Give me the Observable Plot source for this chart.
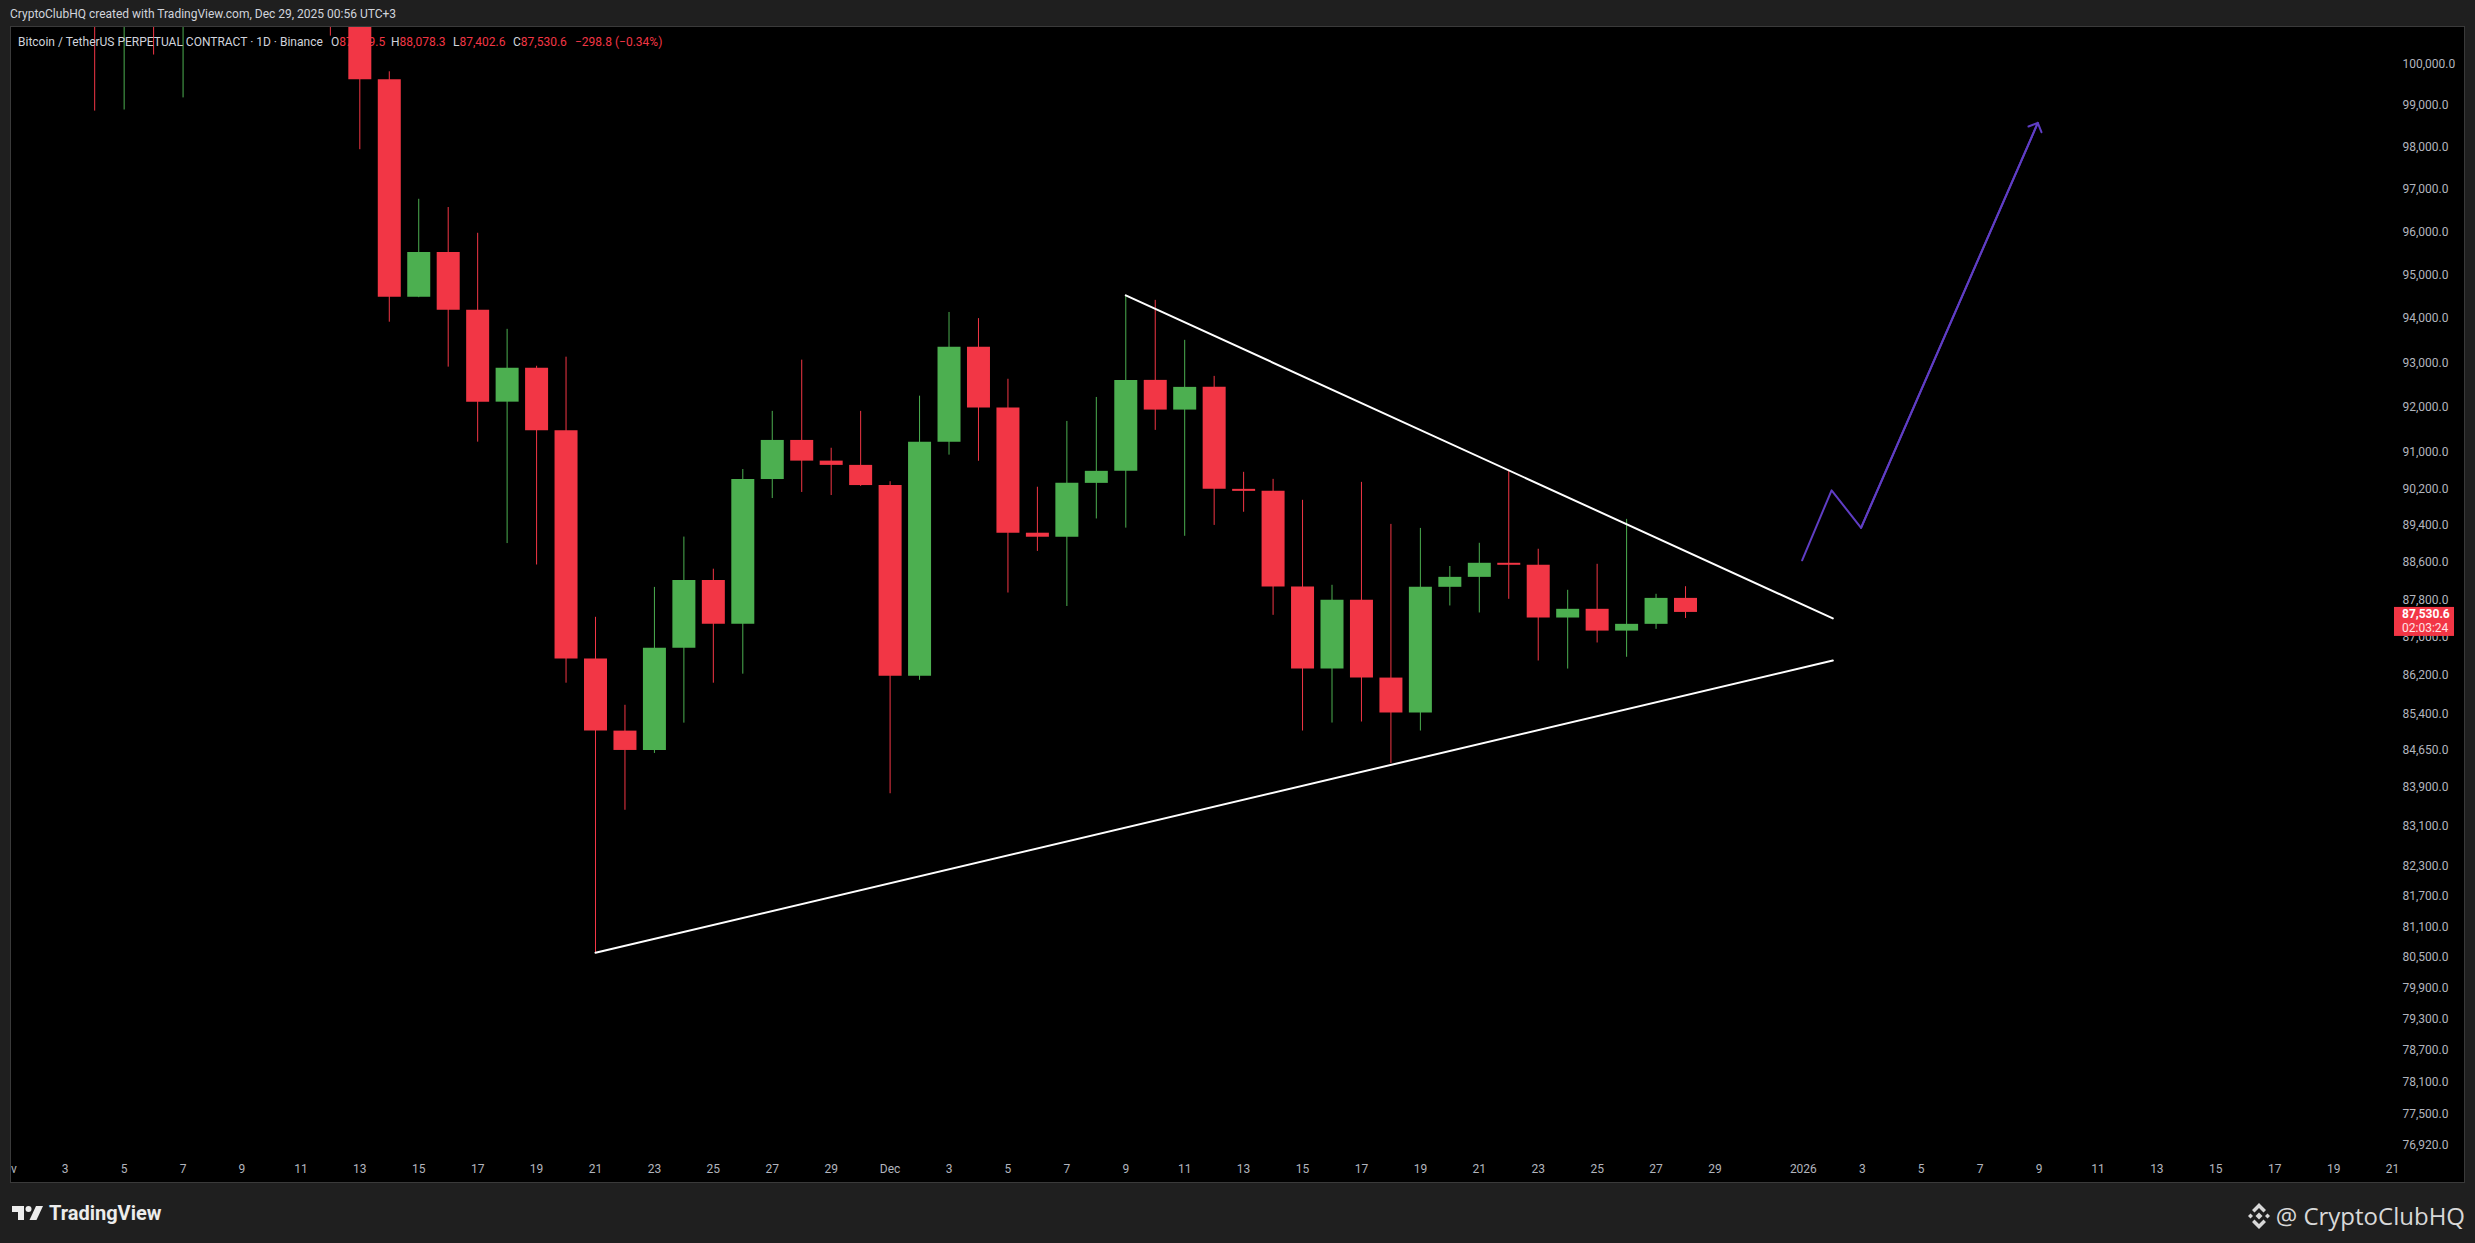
<!DOCTYPE html>
<html>
<head>
<meta charset="utf-8">
<script src="https://cdn.jsdelivr.net/npm/d3@7"></script>
<script src="https://cdn.jsdelivr.net/npm/@observablehq/plot@0.6"></script>
<style>
  html, body { margin:0; padding:0; width:2475px; height:1243px; background:#1f1f1f; overflow:hidden; }
  body { position:relative; font-family: Roboto, "Liberation Sans", sans-serif; }
  #credit { position:absolute; left:10px; top:4px; font-size:12px; line-height:20px; color:#d1d4dc; white-space:pre; }
  #panel { position:absolute; left:10px; top:26px; width:2453px; height:1155px; border:1px solid #3a3a3a; background:#000; overflow:hidden; }
  #legend { position:absolute; left:0; top:7px; width:900px; height:16px; font-size:12px; line-height:16px; white-space:pre; pointer-events:none; }
  #legend .item { position:absolute; top:0; }
  .g { color:#d1d4dc; } .r { color:#f23645; }
  #tvlogo { position:absolute; left:12px; top:1206px; }
  #tvtext { position:absolute; left:49px; top:1203px; font-weight:bold; font-size:20px; line-height:20px; color:#ececec; font-family: Roboto, sans-serif; }
  #handleIcon { position:absolute; left:2245px; top:1203px; }
  #handle { position:absolute; right:10px; top:1204px; font-size:24px; line-height:24px; color:#d8d8d8; font-family:"Open Sans", sans-serif; white-space:pre; }
</style>
</head>
<body>
<div id="credit">CryptoClubHQ created with TradingView.com, Dec 29, 2025 00:56 UTC+3</div>
<div id="panel">
  <div id="chart"></div>
  <div id="legend"></div>
</div>
<svg id="tvlogo" width="32" height="15" viewBox="0 0 32 15">
  <path d="M0 0 H12 V14 H6 V6 H0 Z" fill="#ececec"/>
  <circle cx="16.5" cy="3" r="3" fill="#ececec"/>
  <path d="M24 0 H31 L24.5 14 H17.5 Z" fill="#ececec"/>
</svg>
<div id="tvtext">TradingView</div>
<svg id="handleIcon" width="28" height="26" viewBox="0 0 28 26">
  <g fill="#d8d8d8">
    <path d="M14 0 L21 7 L18.5 9.5 L14 5 L9.5 9.5 L7 7 Z"/>
    <path d="M14 26 L21 19 L18.5 16.5 L14 21 L9.5 16.5 L7 19 Z"/>
    <path d="M3 13 L5.5 10.5 L8 13 L5.5 15.5 Z"/>
    <path d="M25 13 L22.5 10.5 L20 13 L22.5 15.5 Z"/>
    <path d="M14 9.5 L17.5 13 L14 16.5 L10.5 13 Z"/>
  </g>
</svg>
<div id="handle">@ CryptoClubHQ</div>
<script>
// ---------- data ----------
const dates = [
  "2025-11-04","2025-11-05","2025-11-06","2025-11-07","2025-11-08","2025-11-09","2025-11-10",
  "2025-11-11","2025-11-12","2025-11-13","2025-11-14","2025-11-15","2025-11-16","2025-11-17",
  "2025-11-18","2025-11-19","2025-11-20","2025-11-21","2025-11-22","2025-11-23","2025-11-24",
  "2025-11-25","2025-11-26","2025-11-27","2025-11-28","2025-11-29","2025-11-30","2025-12-01",
  "2025-12-02","2025-12-03","2025-12-04","2025-12-05","2025-12-06","2025-12-07","2025-12-08",
  "2025-12-09","2025-12-10","2025-12-11","2025-12-12","2025-12-13","2025-12-14","2025-12-15",
  "2025-12-16","2025-12-17","2025-12-18","2025-12-19","2025-12-20","2025-12-21","2025-12-22",
  "2025-12-23","2025-12-24","2025-12-25","2025-12-26","2025-12-27","2025-12-28"
];
const opens = [
  106500,101480,103880,101300,103320,102270,104720,105990,103060,101650,
  99610,94491,95522,94190,92114,92875,91475,86545,85045,84647,
  86775,88211,87278,90400,91262,90805,90711,90268,86183,91224,
  93352,91985,89230,89143,90316,90580,92602,91937,92445,90185,
  90141,88072,86336,87789,86147,85420,88066,88279,88581,88538,
  87412,87597,87135,87278,87829.5
];
const highs = [
  107300,104500,104200,104000,103400,105500,106670,107500,105330,104000,
  99804,96763,96570,95968,93756,92920,93125,87427,85580,88064,
  89146,88454,90620,91908,93058,91089,91908,90352,92248,94141,
  94001,92627,90231,91684,92219,94532,94418,93506,92692,90558,
  90404,89945,88109,90338,89421,89334,88512,89012,90580,88883,
  88002,88559,89530,87917,88078.3
];
const lows = [
  98856,98883,100211,99174,101400,101400,104300,102450,100672,97935,
  93919,94480,92900,91224,89006,88544,86040,80590,83427,84585,
  85210,86040,86229,89984,90117,90050,90250,83762,86100,90937,
  90802,87944,88837,87657,89539,89340,91485,89163,89399,89685,
  87469,85047,85212,85233,84378,85047,87668,87519,87810,86505,
  86336,86884,86583,87172,87402.6
];
const closes = [
  101480,103880,101300,103320,102270,104720,105990,103060,101650,99610,
  94491,95522,94190,92114,92875,91475,86545,85045,84647,86775,
  88211,87278,90400,91262,90805,90711,90268,86183,91224,93352,
  91985,89230,89143,90316,90580,92602,91937,92445,90185,90141,
  88072,86336,87789,86147,85420,88066,88279,88581,88538,87412,
  87597,87135,87278,87829.4,87530.6
];

// drawn trendlines (anchor points: date, price)
const lowerLineDates = ["2025-11-21T00:00Z", "2026-01-02T00:00Z"];
const lowerLinePrices = [80590, 86515];
const upperLineDates = ["2025-12-09T00:00Z", "2026-01-02T00:00Z"];
const upperLinePrices = [94532, 87403];
// projected path (purple arrow)
const pathDates = ["2025-12-31T23:00Z", "2026-01-01T23:00Z", "2026-01-02T23:00Z", "2026-01-08T23:00Z"];
const pathPrices = [88645, 90163, 89347, 98574];

// axes
const xTickDates = [
  "2025-11-01","2025-11-03","2025-11-05","2025-11-07","2025-11-09","2025-11-11","2025-11-13",
  "2025-11-15","2025-11-17","2025-11-19","2025-11-21","2025-11-23","2025-11-25","2025-11-27",
  "2025-11-29","2025-12-01","2025-12-03","2025-12-05","2025-12-07","2025-12-09","2025-12-11",
  "2025-12-13","2025-12-15","2025-12-17","2025-12-19","2025-12-21","2025-12-23","2025-12-25",
  "2025-12-27","2025-12-29","2026-01-01","2026-01-03","2026-01-05","2026-01-07","2026-01-09",
  "2026-01-11","2026-01-13","2026-01-15","2026-01-17","2026-01-19","2026-01-21"
];
const xTickLabels = [
  "Nov","3","5","7","9","11","13","15","17","19","21","23","25","27","29",
  "Dec","3","5","7","9","11","13","15","17","19","21","23","25","27","29",
  "2026","3","5","7","9","11","13","15","17","19","21"
];
const yTicks = [100000,99000,98000,97000,96000,95000,94000,93000,92000,91000,90200,89400,88600,
  87800,87000,86200,85400,84650,83900,83100,82300,81700,81100,80500,79900,79300,78700,78100,77500,76920];

const legendTitle = "Bitcoin / TetherUS PERPETUAL CONTRACT \u00b7 1D \u00b7 Binance";
const lastOpen = 87829.5, lastHigh = 88078.3, lastLow = 87402.6, lastClose = 87530.6;
const change = -298.8, changePct = -0.34;
const countdown = "02:03:24";

// ---------- styles ----------
const GREEN = "#4caf50", RED = "#f23645", PURPLE = "#5f3dc4";
const W = 2453, H = 1155;

const candles = dates.map((d, i) => ({
  date: new Date(d + "T00:00Z"), open: opens[i], high: highs[i], low: lows[i], close: closes[i]
}));
const color = d => d.close >= d.open ? GREEN : RED;
const toPts = (ds, ps) => ds.map((d, i) => ({date: new Date(d), price: ps[i]}));
const lowerLine = toPts(lowerLineDates, lowerLinePrices);
const upperLine = toPts(upperLineDates, upperLinePrices);
const path = toPts(pathDates, pathPrices);
const arrowSeg = [{x1: path[2].date, y1: path[2].price, x2: path[3].date, y2: path[3].price}];

const xTicks = xTickDates.map(d => new Date(d + "T00:00Z"));
const labelMap = new Map(xTicks.map((d, i) => [+d, xTickLabels[i]]));
const fmt = d3.format(",.1f");

function priceTag(index, scales, values, dimensions) {
  const py = scales.y(lastClose);
  const x0 = dimensions.width - dimensions.marginRight + 1;
  const g = d3.create("svg:g")
    .attr("font-family", "Roboto, sans-serif").attr("font-size", 12).attr("text-anchor", "start");
  g.append("rect").attr("x", x0).attr("y", py - 5).attr("width", 60).attr("height", 29).attr("fill", RED);
  g.append("text").attr("x", x0 + 8).attr("y", py + 1.5).attr("dy", "0.35em")
    .attr("fill", "#ffffff").attr("font-weight", 700).text(fmt(lastClose));
  g.append("text").attr("x", x0 + 8).attr("y", py + 15.5).attr("dy", "0.35em")
    .attr("fill", "#ffe3e6").text(countdown);
  return g.node();
}

const chart = Plot.plot({
  width: W, height: H,
  marginLeft: 0, marginRight: 71, marginTop: 0, marginBottom: 30,
  style: {background: "#000", color: "#b2b5be", fontFamily: "Roboto, sans-serif", fontSize: "12px"},
  x: {type: "utc", domain: [new Date("2025-11-01T04:14Z"), new Date("2026-01-21T00:46Z")], label: null},
  y: {type: "log", domain: [76777, 100883], label: null},
  marks: [
    Plot.axisX(xTicks, {anchor: "bottom", tickSize: 0, tickPadding: 12, tickFormat: d => labelMap.get(+d), label: null}),
    Plot.axisY(yTicks, {anchor: "right", tickSize: 0, tickPadding: 9, tickFormat: fmt, label: null}),
    Plot.ruleX(candles, {x: "date", y1: "low", y2: "high", stroke: color, strokeWidth: 1}),
    Plot.ruleX(candles, {x: "date", y1: "open", y2: "close", stroke: color, strokeWidth: 23}),
    Plot.line(lowerLine, {x: "date", y: "price", stroke: "#ffffff", strokeWidth: 2}),
    Plot.line(upperLine, {x: "date", y: "price", stroke: "#ffffff", strokeWidth: 2}),
    Plot.line(path, {x: "date", y: "price", stroke: PURPLE, strokeWidth: 2}),
    Plot.arrow(arrowSeg, {x1: "x1", y1: "y1", x2: "x2", y2: "y2", stroke: PURPLE, strokeWidth: 2, headAngle: 90, headLength: 7.5}),
    priceTag
  ]
});
document.getElementById("chart").appendChild(chart);

// legend (OHLC header inside the panel)
const legend = document.getElementById("legend");
const items = [
  {left: 7, html: `<span class="g">${legendTitle}</span>`},
  {left: 320, html: `<span class="g">O</span><span class="r">${fmt(lastOpen)}</span>`},
  {left: 380, html: `<span class="g">H</span><span class="r">${fmt(lastHigh)}</span>`},
  {left: 442, html: `<span class="g">L</span><span class="r">${fmt(lastLow)}</span>`},
  {left: 502, html: `<span class="g">C</span><span class="r">${fmt(lastClose)}</span>`},
  {left: 564, html: `<span class="r">${fmt(change).replace("-", "\u2212")} (${d3.format(".2f")(changePct).replace("-", "\u2212")}%)</span>`}
];
for (const it of items) {
  const s = document.createElement("span");
  s.className = "item";
  s.style.left = it.left + "px";
  s.innerHTML = it.html;
  legend.appendChild(s);
}
</script>
</body>
</html>
